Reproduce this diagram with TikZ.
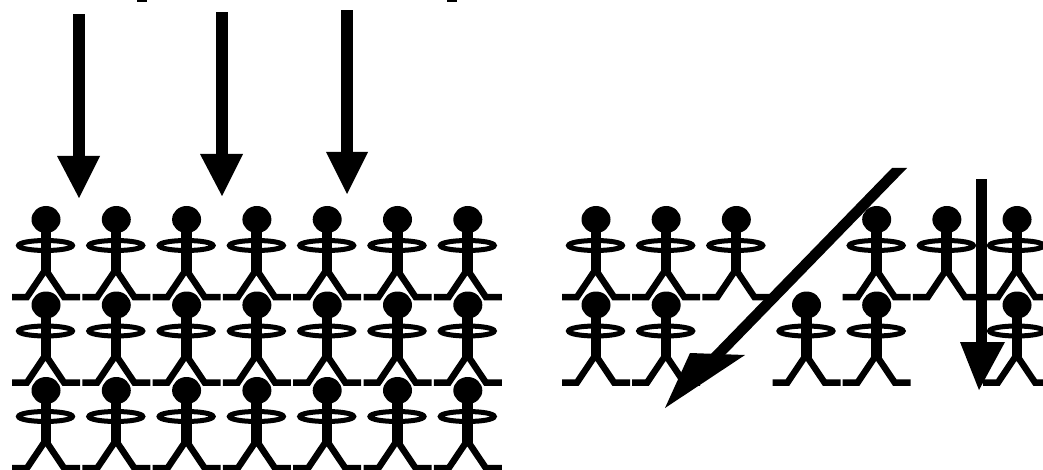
\documentclass[tikz,border=0pt]{standalone}
\begin{document}
\begin{tikzpicture}[x=1pt,y=-1pt,
  ink/.style={fill=black,draw=none},
  man/.pic={
    \fill (0,0) ellipse [x radius=14.5pt, y radius=13.5pt];
    \fill (-5.5,10) rectangle (5,54);
    \draw[line width=5pt] (-0.5,26) ellipse [x radius=27pt, y radius=5pt];
    \draw[line width=6.5pt, line join=miter, line cap=butt]
      (-34,77.5) -- (-19,77.5) -- (-0.5,50) -- (18,77.5) -- (34,77.5);
  }]
\useasboundingbox (0,0) rectangle (1043,470);
\clip (0,0) rectangle (1043,470);
% left crowd: 7 columns x 3 rows
\foreach \r/\yy in {0/219.5,1/305,2/390.5}{
  \foreach \c in {0,...,6}{
    \pic at ({46+70.3*\c},\yy) {man};
  }
}
% right crowd
\foreach \c in {0,1,2,4,5,6}{
  \pic at ({596+70.17*\c},219.5) {man};
}
\foreach \c in {0,1,3,4,6}{
  \pic at ({596+70.17*\c},305) {man};
}
% left arrows
\fill[ink] (73,14) rectangle (85,158);
\fill[ink] (57,156) -- (100,156) -- (79,198) -- cycle;
\fill[ink] (216,12) rectangle (228,156);
\fill[ink] (200,154) -- (243,154) -- (222,196) -- cycle;
\fill[ink] (341,10) rectangle (353,154);
\fill[ink] (326,152) -- (368,152) -- (347,194) -- cycle;
% right vertical arrow
\fill[ink] (976,179) rectangle (987,344);
\fill[ink] (960,342) -- (1005,342) -- (979,390) -- cycle;
% diagonal arrow
\fill[ink] (892,168) -- (907,168) -- (724,356) -- (709,356) -- cycle;
\fill[ink] (690,353) -- (745,355) -- (665,408) -- cycle;
% cut-off text remnants at the top edge
\fill[ink] (137,0) rectangle (147,2);
\fill[ink] (447,0) rectangle (457,2);
\end{tikzpicture}
\end{document}
